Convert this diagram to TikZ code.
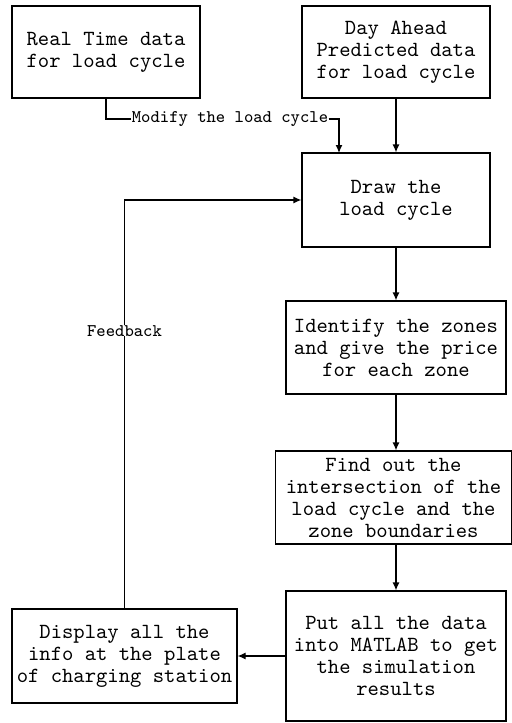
\documentclass[tikz,border=0pt]{standalone}
\usepackage{fontspec}
\usetikzlibrary{arrows.meta}
\begin{document}
\begin{tikzpicture}[x=0.5pt,y=-0.5pt,line width=0.6pt,
    box/.style={draw,align=center,inner sep=0pt,
      font=\ttfamily\fontsize{10.8}{11}\selectfont},
    lbl/.style={fill=white,inner sep=0pt,
      font=\ttfamily\fontsize{8.9}{10}\selectfont}]
      \useasboundingbox (0,0) rectangle (512,723);
      \node[box,minimum width=94pt,minimum height=46pt] (a) at (106,52)
        {Real Time data\\for load cycle};
      \node[box,minimum width=94pt,minimum height=46pt] (b) at (396,52)
        {Day Ahead\\Predicted data\\for load cycle};
      \node[box,minimum width=94pt,minimum height=47pt] (c) at (396,200)
        {Draw the\\load cycle};
      \node[box,minimum width=110pt,minimum height=46.5pt] (d) at (396,347.5)
        {Identify the zones\\and give the price\\for each zone};
      \node[box,minimum width=118pt,minimum height=46.5pt] (e) at (393.5,497.5)
        {Find out the\\intersection of the\\load cycle and the\\zone boundaries};
      \node[box,minimum width=110pt,minimum height=65pt] (f) at (396,656)
        {Put all the data\\into MATLAB to get\\the simulation\\results};
      \node[box,minimum width=112.5pt,minimum height=47pt] (g) at (124.5,656)
        {Display all the\\info at the plate\\of charging station};
      \node[lbl] (mod) at (230,119) {Modify the load cycle};
      \coordinate (cin) at (339,153);
      \begin{scope}[-{Latex[length=4pt,width=3.5pt]}]
        \draw[-] (a) |- (mod);
        \draw (mod) -| (cin);
        \draw (b) -- (c);
        \draw (c) -- (d);
        \draw (d) -- (d |- e.north);
        \draw (e.south -| d) -- (f);
        \draw (f) -- (g);
        \draw (g) |- node[lbl,pos=0.34] (fb) {Feedback} (c);
      \end{scope}
    \end{tikzpicture}
\end{document}
